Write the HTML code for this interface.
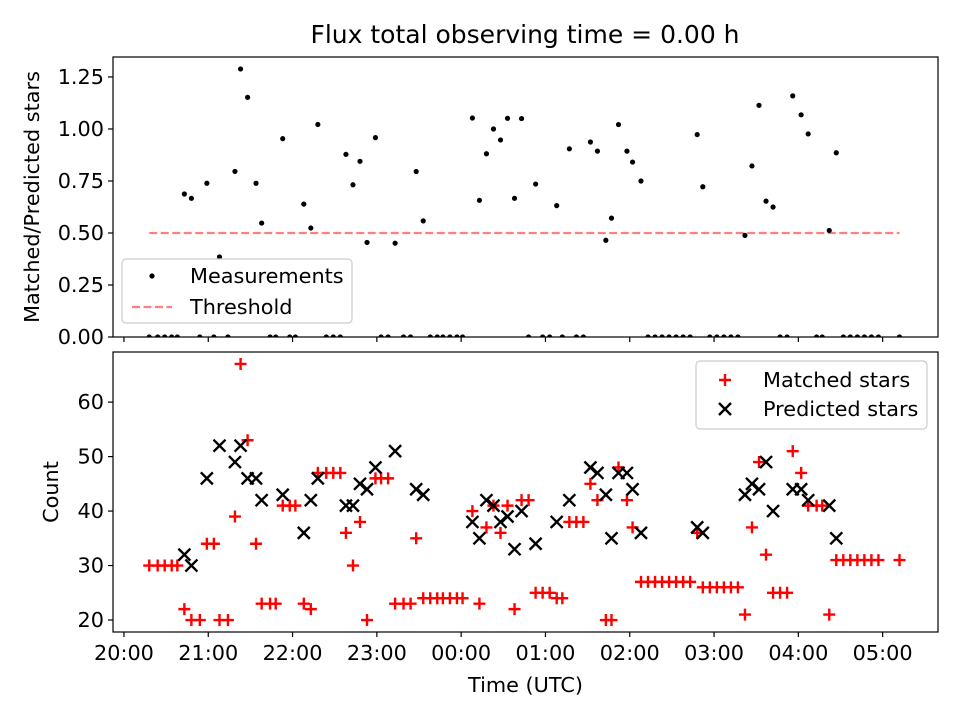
<!DOCTYPE html>
<html><head><meta charset="utf-8"><style>
html,body{margin:0;padding:0;background:#fff;}
svg{display:block;font-family:"DejaVu Sans","Liberation Sans",sans-serif;}
</style></head><body>
<svg id="chart" width="960" height="720" viewBox="0 0 960 720" xmlns="http://www.w3.org/2000/svg">
<rect width="960" height="720" fill="#fff"/>
<text x="525" y="43" font-size="25" text-anchor="middle">Flux total observing time = 0.00 h</text>
<g id="topPanel"></g><g id="botPanel"></g>
</svg>
<script>
// minutes since 20:00 UTC
const times = [18,24,29,34,38,43,48,54,59,64,68,74,79,83,88,94,98,104,108,113,118,122,128,133,138,144,149,154,158,163,168,173,179,183,188,193,199,204,208,213,218,223,227,232,237,241,248,253,258,263,268,273,278,283,288,293,298,303,308,312,317,322,327,332,337,343,347,352,358,362,368,373,378,383,388,393,398,403,408,412,417,422,427,432,437,442,447,452,457,462,467,472,476,482,487,493,497,502,507,512,517,522,527,532,537,552];
const matched = [30,30,30,30,30,22,20,20,34,34,20,20,39,67,53,34,23,23,23,41,41,41,23,22,47,47,47,47,36,30,38,20,46,46,46,23,23,23,35,24,24,24,24,24,24,24,40,23,37,41,36,41,22,42,42,25,25,25,24,24,38,38,38,45,42,20,20,48,42,37,27,27,27,27,27,27,27,27,36,26,26,26,26,26,26,21,37,49,32,25,25,25,51,47,41,41,41,21,31,31,31,31,31,31,31,31];
const predicted = [null,null,null,null,null,32,30,null,46,null,52,null,49,52,46,46,42,null,null,43,null,null,36,42,46,null,null,null,41,41,45,44,48,null,null,51,null,null,44,43,null,null,null,null,null,null,38,35,42,41,38,39,33,40,null,34,null,null,38,null,42,null,null,48,47,43,35,47,47,44,36,null,null,null,null,null,null,null,37,36,null,null,null,null,null,43,45,44,49,40,null,null,44,44,42,null,null,41,35,null,null,null,null,null,null,null];
const xTickLabels = ["20:00","21:00","22:00","23:00","00:00","01:00","02:00","03:00","04:00","05:00"];
const topTicks = [0,0.25,0.5,0.75,1.0,1.25];
const topTickLabels = ["0.00","0.25","0.50","0.75","1.00","1.25"];
const botTicks = [20,30,40,50,60];
const threshold = 0.5;

const NS="http://www.w3.org/2000/svg";
const FS=20.8;
const X0=113,X1=938, TY0=57,TY1=337, BY0=352,BY1=632;
const xMin=-7.8,xMax=579.4;
const sx=m=>X0+(m-xMin)/(xMax-xMin)*(X1-X0);
const tMax=1.346;
const syT=v=>TY1-v/tMax*(TY1-TY0);
const bMin=17.8,bMax=69.2;
const syB=v=>BY1-(v-bMin)/(bMax-bMin)*(BY1-BY0);
function el(tag,attrs,parent,text){const e=document.createElementNS(NS,tag);for(const k in attrs)e.setAttribute(k,attrs[k]);if(text!=null)e.textContent=text;parent.appendChild(e);return e;}
const svgEl=document.getElementById('chart');
const topG=document.getElementById('topPanel'), botG=document.getElementById('botPanel');

const defs=el('defs',{},svgEl);
const c1=el('clipPath',{id:'ct'},defs);el('rect',{x:X0,y:TY0,width:X1-X0,height:TY1-TY0},c1);
const c2=el('clipPath',{id:'cb'},defs);el('rect',{x:X0,y:BY0,width:X1-X0,height:BY1-BY0},c2);

// ---- top panel
const tg=el('g',{'clip-path':'url(#ct)'},topG);
const thr=el('line',{x1:sx(times[0]),x2:sx(times[times.length-1]),y1:syT(threshold),y2:syT(threshold),stroke:'#ff7f7f','stroke-width':2.2,'stroke-dasharray':'8,3.5'},tg);


times.forEach((t,i)=>{
  const r=predicted[i]?matched[i]/predicted[i]:0;
  const d=el('circle',{cx:sx(t),cy:syT(r),r:2.6,fill:'#000'},tg);
  
  
});
const tf=el('rect',{x:X0,y:TY0,width:X1-X0,height:TY1-TY0,fill:'none',stroke:'#000','stroke-width':1.2},topG);


topTicks.forEach((v,i)=>{
  el('line',{x1:X0-5,x2:X0,y1:syT(v),y2:syT(v),stroke:'#000','stroke-width':1.2},topG);
  const l=el('text',{x:X0-9,y:syT(v)+7,'font-size':FS,'text-anchor':'end'},topG,topTickLabels[i]);
  
  
});
xTickLabels.forEach((s,i)=>{
  el('line',{x1:sx(i*60),x2:sx(i*60),y1:TY1,y2:TY1+5,stroke:'#000','stroke-width':1.2},topG);
});
const tyl=el('text',{transform:`translate(39,${(TY0+TY1)/2}) rotate(-90)`,'font-size':FS,'text-anchor':'middle'},topG,'Matched/Predicted stars');


const lg=el('g',{},topG);


el('rect',{x:122,y:259,width:230,height:64,rx:4,fill:'#fff','fill-opacity':0.8,stroke:'#ccc','stroke-width':1.2},lg);
el('circle',{cx:152,cy:276,r:2.6,fill:'#000'},lg);
el('text',{x:190,y:283,'font-size':FS},lg,'Measurements');
el('line',{x1:132,x2:172,y1:307,y2:307,stroke:'#ff7f7f','stroke-width':2.2,'stroke-dasharray':'8,3.5'},lg);
el('text',{x:190,y:314,'font-size':FS},lg,'Threshold');

// ---- bottom panel
const bg=el('g',{'clip-path':'url(#cb)'},botG);
times.forEach((t,i)=>{
  const x=sx(t),y=syB(matched[i]);
  const p=el('path',{d:`M${x-6},${y}H${x+6}M${x},${y-6}V${y+6}`,stroke:'#f00','stroke-width':2.4,fill:'none'},bg);
  
  
});
times.forEach((t,i)=>{
  if(predicted[i]==null)return;
  const x=sx(t),y=syB(predicted[i]);
  const p=el('path',{d:`M${x-6},${y-6}L${x+6},${y+6}M${x-6},${y+6}L${x+6},${y-6}`,stroke:'#000','stroke-width':2.4,fill:'none'},bg);
  
  
});
const bf=el('rect',{x:X0,y:BY0,width:X1-X0,height:BY1-BY0,fill:'none',stroke:'#000','stroke-width':1.2},botG);


botTicks.forEach(v=>{
  el('line',{x1:X0-5,x2:X0,y1:syB(v),y2:syB(v),stroke:'#000','stroke-width':1.2},botG);
  const l=el('text',{x:X0-9,y:syB(v)+7,'font-size':FS,'text-anchor':'end'},botG,String(v));
  
  
});
xTickLabels.forEach((s,i)=>{
  el('line',{x1:sx(i*60),x2:sx(i*60),y1:BY1,y2:BY1+5,stroke:'#000','stroke-width':1.2},botG);
  const l=el('text',{x:sx(i*60),y:BY1+28,'font-size':FS,'text-anchor':'middle'},botG,s);
  
  
});
const byl=el('text',{transform:`translate(58,${(BY0+BY1)/2}) rotate(-90)`,'font-size':FS,'text-anchor':'middle'},botG,'Count');


const xl=el('text',{x:(X0+X1)/2,y:692,'font-size':FS,'text-anchor':'middle'},botG,'Time (UTC)');


const lg2=el('g',{},botG);


el('rect',{x:696,y:361,width:231,height:68,rx:4,fill:'#fff','fill-opacity':0.8,stroke:'#ccc','stroke-width':1.2},lg2);
el('path',{d:'M719,380H731M725,374V386',stroke:'#f00','stroke-width':2.4},lg2);
el('text',{x:763,y:387,'font-size':FS},lg2,'Matched stars');
el('path',{d:'M719,403L731,415M719,415L731,403',stroke:'#000','stroke-width':2.4},lg2);
el('text',{x:763,y:416,'font-size':FS},lg2,'Predicted stars');
</script>
</body></html>
